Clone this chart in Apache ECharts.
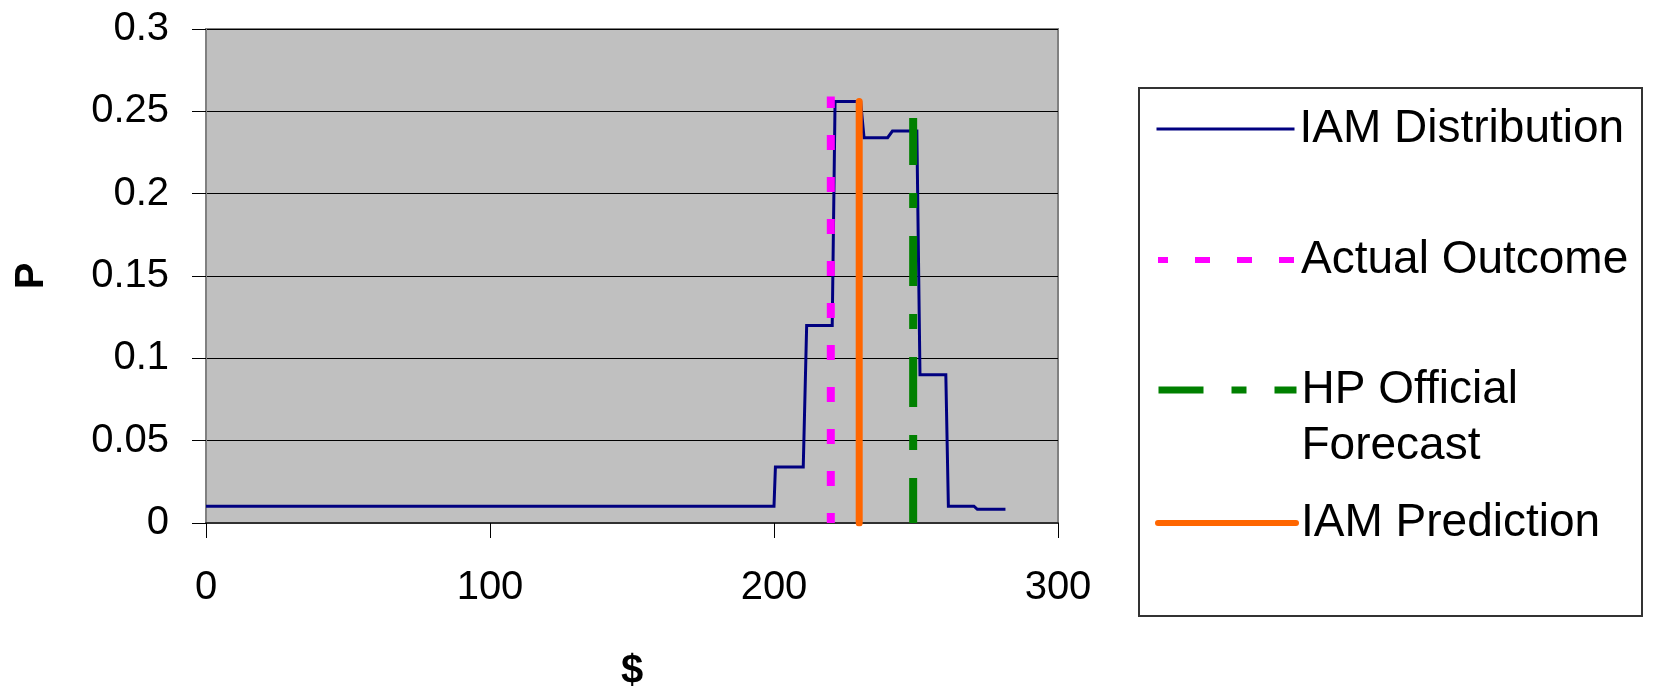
<!DOCTYPE html>
<html>
<head>
<meta charset="utf-8">
<script src="https://cdn.jsdelivr.net/npm/echarts@6/dist/echarts.min.js"></script>
<style>
  html, body { margin: 0; padding: 0; background: #fff; }
  #chart { width: 1656px; height: 695px; }
</style>
</head>
<body>
<div id="chart"></div>
<script>
// IAM probability distribution over price ($)
const distPrice = [0, 200, 200.5, 210.3, 211.5, 220.5, 221.5, 230.5, 231.7, 240, 241.7, 250.3, 251.4, 260.5, 261.4, 270.4, 271.6, 281.5];
const distProb  = [0.0102, 0.0102, 0.034, 0.034, 0.12, 0.12, 0.256, 0.256, 0.234, 0.234, 0.238, 0.238, 0.09, 0.09, 0.0102, 0.0102, 0.0083, 0.0083];

// Reference markers: price and height of each vertical line
const markerNames = ['Actual Outcome', 'HP Official Forecast', 'IAM Prediction'];
const markerPrice = [220, 249, 230];
const markerTop   = [0.259, 0.246, 0.256];

// Axis tick labels
const yTicks = [0, 0.05, 0.1, 0.15, 0.2, 0.25, 0.3];
const xTicks = [0, 100, 200, 300];

const FONT = 'Liberation Sans';

const styles = {
  'IAM Distribution':     { color: '#000080', width: 3, legendWidth: 3, type: 'solid', cap: 'butt', dashOffset: 0 },
  'Actual Outcome':       { color: '#FF00FF', width: 8, legendWidth: 6, type: [15, 27], cap: 'butt', dashOffset: 5 },
  'HP Official Forecast': { color: '#008000', width: 8, legendWidth: 7, type: [50, 28, 15, 28], cap: 'butt', dashOffset: 5 },
  'IAM Prediction':       { color: '#FF6600', width: 7, legendWidth: 6, type: 'solid', cap: 'round', dashOffset: 0 }
};

const series = [];
series.push({
  name: 'IAM Distribution',
  type: 'line',
  data: distPrice.map((x, i) => [x, distProb[i]]),
  symbol: 'none',
  silent: true,
  z: 2,
  lineStyle: { color: styles['IAM Distribution'].color, width: styles['IAM Distribution'].width, join: 'miter' }
});
markerNames.forEach((name, i) => {
  const s = styles[name];
  series.push({
    name: name,
    type: 'line',
    data: [[markerPrice[i], 0], [markerPrice[i], markerTop[i]]],
    symbol: 'none',
    silent: true,
    z: 3 + i,
    lineStyle: { color: s.color, width: s.width, type: s.type, cap: s.cap, dashOffset: s.dashOffset }
  });
});

// One legend block per entry so the two-line entry keeps its symbol on the first line
const legendOrder = ['IAM Distribution', 'Actual Outcome', 'HP Official Forecast', 'IAM Prediction'];
const legendTop = [101, 232, 306, 495];
const legends = legendOrder.map((name, i) => {
  const s = styles[name];
  return {
    data: [name],
    orient: 'vertical',
    left: 1155,
    top: legendTop[i],
    padding: 0,
    itemWidth: 138,
    itemHeight: 10,
    selectedMode: false,
    itemStyle: { opacity: 0 },
    lineStyle: { color: s.color, width: s.legendWidth, type: s.type, cap: s.cap, opacity: 1 },
    textStyle: { fontFamily: FONT, fontSize: 46, color: '#000', lineHeight: 56 },
    formatter: n => n === 'HP Official Forecast' ? ' \nHP Official\nForecast' : n
  };
});

const chart = echarts.init(document.getElementById('chart'), null, { renderer: 'canvas' });
chart.setOption({
  animation: false,
  backgroundColor: '#ffffff',
  grid: {
    left: 206, right: 598, top: 29, bottom: 172,
    show: true,
    backgroundColor: '#C0C0C0',
    borderColor: '#808080',
    borderWidth: 2,
    containLabel: false,
    outerBoundsMode: 'none'
  },
  xAxis: {
    type: 'value',
    min: xTicks[0],
    max: xTicks[xTicks.length - 1],
    interval: xTicks[1] - xTicks[0],
    name: '$',
    nameLocation: 'middle',
    nameGap: 129,
    nameTextStyle: { fontFamily: FONT, fontSize: 40, fontWeight: 'bold', color: '#000' },
    axisLine: { show: true, lineStyle: { color: '#303030', width: 2 } },
    axisTick: { show: true, length: 15, lineStyle: { color: '#000', width: 1 } },
    axisLabel: { margin: 45, fontFamily: FONT, fontSize: 40, color: '#000' },
    splitLine: { show: false }
  },
  yAxis: {
    type: 'value',
    min: yTicks[0],
    max: yTicks[yTicks.length - 1],
    interval: yTicks[1] - yTicks[0],
    name: 'P',
    nameLocation: 'middle',
    nameGap: 154,
    nameTextStyle: { fontFamily: FONT, fontSize: 40, fontWeight: 'bold', color: '#000' },
    axisLine: { show: true, lineStyle: { color: '#808080', width: 2 } },
    axisTick: { show: true, length: 14, lineStyle: { color: '#000', width: 1 } },
    axisLabel: { margin: 37, fontFamily: FONT, fontSize: 40, color: '#000', formatter: v => String(+v.toFixed(2)) },
    splitLine: { show: true, lineStyle: { color: '#000', width: 1 } }
  },
  legend: legends,
  graphic: [{
    type: 'rect',
    shape: { x: 1139, y: 88, width: 503, height: 528 },
    style: { fill: 'none', stroke: '#333', lineWidth: 2 },
    z: -1,
    silent: true
  }],
  series: series
});
</script>
</body>
</html>
